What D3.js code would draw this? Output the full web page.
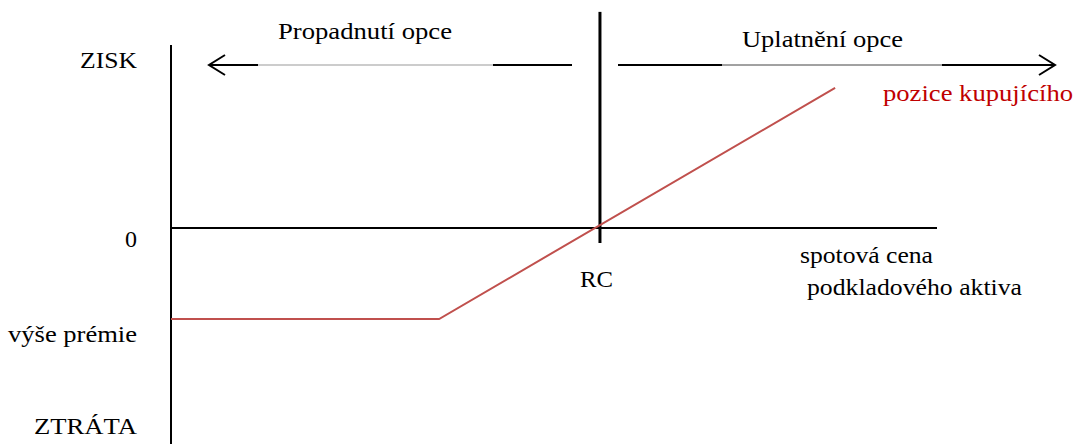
<!DOCTYPE html>
<html><head><meta charset="utf-8">
<script src="https://cdn.jsdelivr.net/npm/d3@7"></script>
</head><body style="margin:0">
<script>
// data
const spot = [0, 35, 86.7];          // spot price of underlying
const payoff = [-2, -2, 3.08];       // buyer's position (profit)
const strike = 56;                   // RC
const premium = -2;                  // výše prémie
const yLabels = ["ZISK", "0", "výše prémie", "ZTRÁTA"];
const yLabelVals = [3.69, -0.24, -2.33, -4.35];
const yLabelWidths = [57, 0, 129, 103];

const W = 1076, H = 444;
const svg = d3.select("body").append("svg").attr("width", W).attr("height", H).style("display", "block");
const x = d3.scaleLinear().domain([0, 100]).range([171, 937]);
const y = d3.scaleLinear().domain([-2, 0]).range([319, 228]);

// axes
svg.append("line").attr("x1", x(0)).attr("x2", x(0)).attr("y1", y(4.02)).attr("y2", H)
  .attr("stroke", "#000").attr("stroke-width", 2);
svg.append("line").attr("x1", x(0)).attr("x2", x(100)).attr("y1", y(0)).attr("y2", y(0))
  .attr("stroke", "#000").attr("stroke-width", 2);
svg.append("line").attr("x1", x(strike)).attr("x2", x(strike)).attr("y1", y(4.75)).attr("y2", y(-0.33))
  .attr("stroke", "#000").attr("stroke-width", 3);

// payoff line
const line = d3.line().x(d => x(d[0])).y(d => y(d[1]));
svg.append("path").datum(spot.map((s, i) => [s, payoff[i]])).attr("d", line)
  .attr("fill", "none").attr("stroke", "#c0504d").attr("stroke-width", 2);

// arrows
const ay = 65;
function seg(a, b, w, c) {
  svg.append("line").attr("x1", a).attr("x2", b).attr("y1", ay).attr("y2", ay)
    .attr("stroke", c).attr("stroke-width", w);
}
seg(209, 258, 2, "#000"); seg(258, 493, 1, "#999"); seg(493, 572, 2, "#000");
svg.append("path").attr("d", `M225,${ay-10} L209,${ay} L225,${ay+10}`).attr("fill", "none").attr("stroke", "#000").attr("stroke-width", 2);
seg(618, 722, 2, "#000"); seg(722, 942, 1, "#444"); seg(942, 1055, 2, "#000");
svg.append("path").attr("d", `M1039,${ay-10} L1055,${ay} L1039,${ay+10}`).attr("fill", "none").attr("stroke", "#000").attr("stroke-width", 2);

// texts
function txt(t, px, py, anchor, len, col) {
  const el = svg.append("text").attr("x", px).attr("y", py).attr("text-anchor", anchor)
    .style("font-family", "\"Liberation Serif\", \"Times New Roman\", serif")
    .attr("fill", col || "#000").attr("font-size", 24).text(t);
  if (len) el.attr("textLength", len).attr("lengthAdjust", "spacingAndGlyphs");
}
txt("Propadnutí opce", 278, 39, "start", 174);
txt("Uplatnění opce", 742, 47, "start", 161);
yLabels.forEach((l, i) => txt(l, 137, y(yLabelVals[i]) + 8, "end", yLabelWidths[i]));
txt("RC", 580, 287, "start", 33);
txt("spotová cena", 800, 263, "start", 133);
txt("podkladového aktiva", 807, 295, "start", 215);
txt("pozice kupujícího", 883, 101, "start", 190, "#c00000");
</script>
</body></html>
